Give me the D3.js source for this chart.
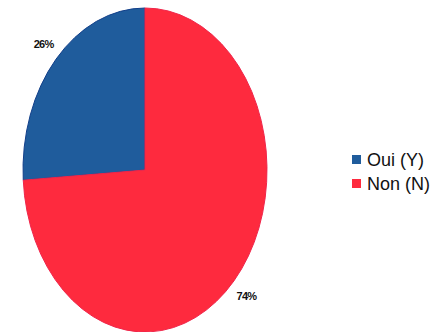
<!DOCTYPE html>
<html>
<head>
<meta charset="utf-8">
<script src="https://cdn.jsdelivr.net/npm/d3@7"></script>
<style>
  html, body { margin: 0; padding: 0; background: #fff; }
  svg { display: block; }
</style>
</head>
<body>
<svg id="chart" width="434" height="332"></svg>
<script>
// Réponses au sondage
const categories = ["Oui (Y)", "Non (N)"];
const values = [26, 74];
const labels = ["26%", "74%"];
const colors = ["#1f5c9c", "#fe2a3e"];
const strokes = ["#123f8a", "#f0254a"];

const svg = d3.select("#chart");

// Pie drawn as an ellipse: unit-circle arcs scaled to rx × ry
const cx = 145, cy = 170, rx = 122, ry = 162;
const total = d3.sum(values);
const start = -2 * Math.PI * values[0] / total;

const pie = d3.pie().sort(null).value(d => d)
  .startAngle(start).endAngle(start + 2 * Math.PI);
const arcs = pie(values);
const arc = d3.arc().innerRadius(0).outerRadius(1);

const g = svg.append("g").attr("transform", `translate(${cx},${cy}) scale(${rx},${ry})`);
g.selectAll("path").data(arcs).join("path")
  .attr("d", arc)
  .attr("fill", (d, i) => colors[i])
  .attr("stroke", (d, i) => strokes[i])
  .attr("stroke-width", 1)
  .attr("vector-effect", "non-scaling-stroke");

// Percentage labels placed just outside the rim
const labelArc = d3.arc().innerRadius(1.14).outerRadius(1.14);
svg.append("g").selectAll("text").data(arcs).join("text")
  .attr("x", d => cx + labelArc.centroid(d)[0] * rx)
  .attr("y", d => cy + labelArc.centroid(d)[1] * ry)
  .attr("text-anchor", "middle")
  .attr("dominant-baseline", "central")
  .attr("font-family", "Liberation Sans Narrow, Liberation Sans, Arial, sans-serif")
  .attr("font-size", 11)
  .attr("font-weight", "bold")
  .attr("letter-spacing", -0.8)
  .attr("fill", "#111")
  .text((d, i) => labels[i]);

// Legend
const legend = svg.append("g").attr("transform", "translate(352,152)");
const rows = legend.selectAll("g").data(categories).join("g")
  .attr("transform", (d, i) => `translate(0,${i * 24})`);
rows.append("rect")
  .attr("x", 0).attr("y", 3).attr("width", 9).attr("height", 9)
  .attr("fill", (d, i) => colors[i]);
rows.append("text")
  .attr("x", 15).attr("y", 8)
  .attr("dominant-baseline", "central")
  .attr("font-family", "Liberation Sans, Arial, sans-serif")
  .attr("font-size", 18)
  .attr("fill", "#111")
  .text(d => d);
</script>
</body>
</html>
